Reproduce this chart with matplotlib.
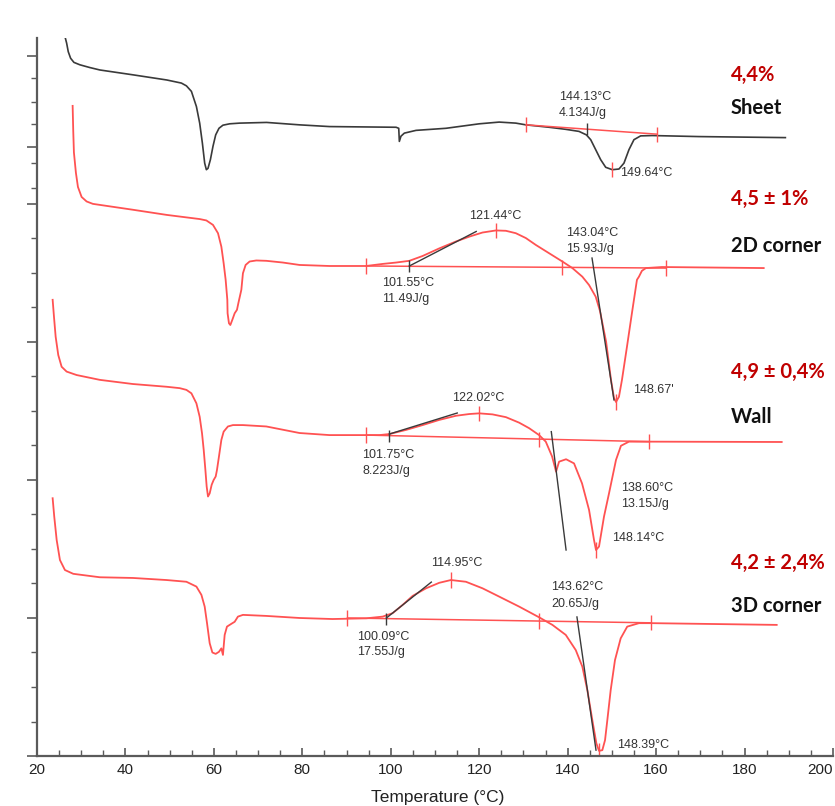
import numpy as np
import matplotlib
matplotlib.use("Agg")
import matplotlib.pyplot as plt
from matplotlib.ticker import MultipleLocator, FixedLocator, NullFormatter

# ---------------- data (temperature in °C, heat flow in arbitrary stacked units) ----------------
sheet_T = [26.32, 26.70, 27.07, 27.60, 28.35, 29.70, 31.96, 34.22, 41.67, 49.35, 52.66, 53.79, 54.92,
           56.05, 56.79, 57.40, 57.92, 58.30, 58.67, 59.21, 59.80, 60.41, 61.15, 62.05, 63.57, 65.82,
           71.92, 79.37, 86.14, 101.2, 101.8, 101.94, 102.3, 103.07, 105.71, 112.48, 120.0, 124.51,
           128.28, 130.54, 135.8, 139.57, 142.57, 144.23, 145.21, 146.34, 147.47, 148.6, 150.1, 151.6,
           152.73, 153.86, 154.99, 156.5, 159.13, 169.66, 189.23]
sheet_hf = [20.85, 20.66, 20.41, 20.22, 20.10, 20.03, 19.95, 19.88, 19.74, 19.59, 19.50, 19.42, 19.26,
            18.82, 18.34, 17.76, 17.18, 16.99, 17.03, 17.28, 17.67, 18.00, 18.19, 18.28, 18.32, 18.34,
            18.36, 18.29, 18.24, 18.22, 18.19, 17.81, 17.96, 18.05, 18.13, 18.19, 18.32, 18.37,
            18.34, 18.29, 18.22, 18.16, 18.10, 18.00, 17.86, 17.57, 17.28, 17.06, 16.99, 17.01,
            17.18, 17.57, 17.86, 17.97, 17.98, 17.95, 17.92]

c2d_T = [28.06, 28.2, 28.35, 28.80, 29.26, 30.09, 31.22, 32.64, 41.67, 49.35, 56.79, 58.3, 59.8, 60.93,
         61.69, 62.21, 62.66, 63.04, 63.1, 63.41, 63.72, 64.17, 64.70, 65.22, 65.53, 66.21, 66.57, 67.18,
         68.08, 69.59, 71.85, 75.6, 79.37, 86.14, 94.42, 98.17, 101.2, 104.2, 107.2, 110.97, 114.74,
         117.74, 120.75, 123.77, 126.03, 128.28, 130.54, 132.8, 135.8, 138.8, 141.06, 143.32, 144.83,
         146.34, 147.3, 148.7, 149.80, 150.47, 150.93, 151.60, 152.28, 153.41, 154.54, 155.67, 156.12,
         156.79, 157.70, 161.31, 184.33]
c2d_hf = [18.84, 18.10, 17.49, 16.90, 16.49, 16.20, 16.07, 16.00, 15.83, 15.68, 15.56, 15.52, 15.39, 15.15,
          14.76, 14.28, 13.80, 13.22, 12.83, 12.54, 12.49, 12.64, 12.83, 12.93, 13.12, 13.51, 13.99, 14.23,
          14.33, 14.36, 14.35, 14.30, 14.23, 14.20, 14.20, 14.26, 14.30, 14.35, 14.49, 14.71, 14.91,
          15.05, 15.17, 15.23, 15.22, 15.15, 15.01, 14.81, 14.57, 14.33, 14.14, 13.89, 13.65,
          13.31, 12.90, 12.00, 10.90, 10.38, 10.26, 10.41, 10.90, 11.86, 12.84, 13.80, 13.89,
          14.06, 14.14, 14.17, 14.14]

wall_T = [23.54, 23.84, 24.22, 24.81, 25.57, 26.7, 28.96, 34.22, 41.67, 49.35, 52.28, 53.79, 54.92, 56.05,
          56.79, 57.32, 57.70, 58.08, 58.37, 58.67, 59.05, 59.50, 59.95, 60.41, 60.70, 61.15, 61.69, 62.21,
          63.18, 64.31, 66.57, 71.85, 79.37, 86.14, 94.42, 97.43, 99.68, 103.45, 107.2, 110.97, 114.74,
          117.74, 120.0, 123.0, 126.03, 129.03, 131.29, 133.54, 135.05, 136.48, 137.38, 138.06, 139.64,
          141.44, 143.25, 144.84, 145.96, 146.41, 147.09, 148.22, 149.35, 150.93, 152.05, 153.86, 158.37,
          188.40]
wall_hf = [13.22, 12.73, 12.15, 11.62, 11.28, 11.14, 11.04, 10.90, 10.78, 10.70, 10.66, 10.61, 10.51, 10.22,
           9.83, 9.35, 8.87, 8.29, 7.81, 7.52, 7.61, 7.86, 8.00, 8.10, 8.29, 8.68, 9.16, 9.40,
           9.55, 9.59, 9.59, 9.55, 9.36, 9.30, 9.30, 9.30, 9.33, 9.45, 9.59, 9.74, 9.86,
           9.91, 9.93, 9.90, 9.82, 9.66, 9.50, 9.30, 9.11, 8.68, 8.24, 8.53, 8.60,
           8.48, 7.90, 7.13, 6.26, 5.97, 6.07, 6.94, 7.61, 8.58, 8.99, 9.11, 9.11,
           9.10]

c3d_T = [23.54, 23.90, 24.45, 25.19, 26.32, 28.20, 34.22, 41.67, 49.28, 53.79, 56.05, 57.18, 57.92, 58.45,
         59.05, 59.66, 60.41, 61.15, 61.69, 62.05, 62.44, 62.96, 63.94, 64.70, 65.44, 66.57, 71.85, 79.37,
         86.82, 94.42, 98.17, 100.43, 102.69, 104.95, 107.97, 110.97, 113.6, 116.99, 120.75, 124.51,
         129.03, 133.54, 136.55, 139.57, 141.83, 143.32, 144.45, 145.58, 146.49, 147.09, 147.84, 148.45,
         148.97, 149.73, 150.70, 151.99, 153.47, 156.12, 159.13, 187.27]
c3d_hf = [7.47, 6.94, 6.26, 5.68, 5.39, 5.28, 5.18, 5.16, 5.10, 5.05, 4.91, 4.67, 4.33, 3.85,
          3.27, 3.00, 2.96, 3.02, 3.12, 2.93, 3.51, 3.75, 3.83, 3.89, 4.04, 4.09, 4.06, 4.00,
          3.97, 3.99, 4.04, 4.14, 4.38, 4.64, 4.86, 5.02, 5.10, 5.05, 4.86, 4.62,
          4.33, 4.02, 3.80, 3.51, 3.07, 2.59, 1.91, 1.04, 0.37, 0.15, 0.17, 0.46,
          1.04, 1.91, 2.78, 3.41, 3.75, 3.85, 3.85, 3.80]

# integration baselines (start / end)
sheet_base_T, sheet_base_hf = [130.6, 160.2], [18.29, 18.02]
c2d_base_T, c2d_base_hf = [94.49, 162.2], [14.20, 14.14]
wall_base_T, wall_base_hf = [94.49, 158.4], [9.30, 9.11]
c3d_base_T, c3d_base_hf = [90.2, 158.8], [4.00, 3.86]

# limit marks on baselines
sheet_limits = [130.6, 160.2]
c2d_limits = [94.49, 138.74, 162.2]
wall_limits = [94.49, 133.54, 158.37]
c3d_limits = [90.2, 133.54, 158.83]

# peak marks (temperature on curve)
sheet_peaks = [150.1]
c2d_peaks = [123.84, 150.93]
wall_peaks = [120.0, 146.41]
c3d_peaks = [113.68, 147.09]

# onset marks
sheet_onsets = [144.38]
c2d_onsets = [104.2]
wall_onsets = [99.68]
c3d_onsets = [99.01]

# tangent lines ((T1, T2), (hf1, hf2))
tangents = [
    ((104.2, 119.32), (14.20, 15.20)),
    ((145.51, 150.47), (14.43, 10.32)),
    ((99.68, 115.03), (9.33, 9.94)),
    ((136.3, 139.64), (9.40, 5.97)),
    ((99.01, 109.17), (4.00, 5.04)),
    ((142.1, 146.41), (4.03, 0.17)),
]

# annotations (text, T, hf)
annotations = [
    ("144.13°C", 138.06, 19.10), ("4.134J/g", 138.06, 18.64), ("149.64°C", 151.83, 16.90),
    ("121.44°C", 117.74, 15.65), ("101.55°C", 98.10, 13.71), ("11.49J/g", 98.10, 13.25),
    ("143.04°C", 139.64, 15.16), ("15.93J/g", 139.64, 14.70), ("148.67'", 154.77, 10.60),
    ("122.02°C", 113.91, 10.38), ("101.75°C", 93.59, 8.72), ("8.223J/g", 93.59, 8.26),
    ("138.60°C", 152.05, 7.77), ("13.15J/g", 152.05, 7.30), ("148.14°C", 150.02, 6.32),
    ("114.95°C", 109.17, 5.59), ("100.09°C", 92.46, 3.45), ("17.55J/g", 92.46, 3.01),
    ("143.62°C", 136.25, 4.90), ("20.65J/g", 136.25, 4.41), ("148.39°C", 151.15, 0.32),
]

# sample labels
sample_names = ["Sheet", "2D corner", "Wall", "3D corner"]
crystallinity = ["4,4%", "4,5 ± 1%", "4,9 ± 0,4%", "4,2 ± 2,4%"]
label_T = 176.9
name_hf = [18.78, 14.78, 9.83, 4.35]
cryst_hf = [19.74, 16.14, 11.13, 5.59]

x_ticks = [20, 40, 60, 80, 100, 120, 140, 160, 180, 200]
x_label = "Temperature (°C)"

# ---------------- plotting ----------------
RED = "#ff5252"
BLACK = "#3a3a3a"
AXC = "#5a5a5a"

fig = plt.figure(figsize=(8.35, 8.06), dpi=100)
ax = fig.add_axes([0.0443, 0.062, 0.9533, 0.891])
ax.set_xlim(20, 200)
ax.set_ylim(0, 20.81)

ax.plot(sheet_T, sheet_hf, color=BLACK, lw=1.2, solid_joinstyle="round")
for T, hf in [(c2d_T, c2d_hf), (wall_T, wall_hf), (c3d_T, c3d_hf)]:
    ax.plot(T, hf, color=RED, lw=1.3, solid_joinstyle="round")

half = 0.22
groups = [
    (sheet_T, sheet_hf, sheet_base_T, sheet_base_hf, sheet_limits, sheet_peaks, sheet_onsets),
    (c2d_T, c2d_hf, c2d_base_T, c2d_base_hf, c2d_limits, c2d_peaks, c2d_onsets),
    (wall_T, wall_hf, wall_base_T, wall_base_hf, wall_limits, wall_peaks, wall_onsets),
    (c3d_T, c3d_hf, c3d_base_T, c3d_base_hf, c3d_limits, c3d_peaks, c3d_onsets),
]
for T, hf, bT, bhf, lim, pk, on in groups:
    ax.plot(bT, bhf, color=RED, lw=1.1)
    ly = np.interp(lim, bT, bhf)
    ax.vlines(lim, ly - half, ly + half, color=RED, lw=1.0)
    py = np.interp(pk, T, hf)
    ax.vlines(pk, py - half, py + half, color=RED, lw=1.0)
    oy = np.interp(on, bT, bhf)
    ax.vlines(on, oy - half * 0.8, oy + half * 0.8, color=BLACK, lw=1.0)

for (t1, t2), (h1, h2) in tangents:
    ax.plot([t1, t2], [h1, h2], color=BLACK, lw=1.0)

for txt, T, hf in annotations:
    ax.text(T, hf, txt, fontsize=9, family="Liberation Sans", color="#333333",
            ha="left", va="center")

for name, cr, nh, ch in zip(sample_names, crystallinity, name_hf, cryst_hf):
    ax.text(label_T, ch, cr, fontsize=14.5, family="Lato", weight="bold", color="#c00000",
            ha="left", va="center", clip_on=False)
    ax.text(label_T, nh, name, fontsize=14.5, family="Lato", weight="bold", color="#111111",
            ha="left", va="center", clip_on=False)

# axes styling
for s in ["top", "right"]:
    ax.spines[s].set_visible(False)
for s in ["left", "bottom"]:
    ax.spines[s].set_color(AXC)
    ax.spines[s].set_linewidth(1.6)

ax.xaxis.set_major_locator(FixedLocator(x_ticks))
ax.xaxis.set_minor_locator(MultipleLocator(5))
ax.tick_params(axis="x", which="major", direction="in", length=6, width=1.2, color=AXC,
               labelsize=11, labelcolor="#222222", pad=5)
ax.tick_params(axis="x", which="minor", direction="in", length=4, width=1.0, color=AXC)
xlabels = ax.get_xticklabels()
for lab in xlabels:
    lab.set_family("Liberation Sans")
xlabels[-1].set_horizontalalignment("right")

ax.yaxis.set_major_locator(FixedLocator([0, 4, 8, 12, 16, 17.65, 20.29]))
ax.yaxis.set_minor_locator(FixedLocator([1, 2, 3, 5, 6, 7, 9, 10, 11, 13, 14, 15,
                                         16.46, 17.19, 18.32, 18.96, 19.65]))
ax.yaxis.set_major_formatter(NullFormatter())
ax.tick_params(axis="y", which="major", direction="out", length=7, width=1.2, color=AXC)
ax.tick_params(axis="y", which="minor", direction="out", length=4, width=1.0, color=AXC)

ax.set_xlabel(x_label, fontsize=12.5, family="Liberation Sans", color="#222222")
ax.xaxis.set_label_coords(0.503, -0.048)

fig.savefig("out.png", dpi=100)
